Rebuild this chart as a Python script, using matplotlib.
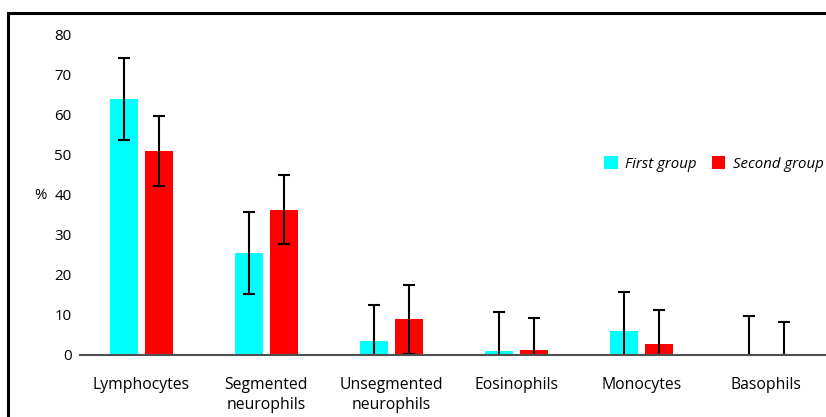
import matplotlib
matplotlib.use("Agg")
import matplotlib.pyplot as plt
import numpy as np
from matplotlib.patches import Rectangle

categories = ["Lymphocytes", "Segmented\nneurophils", "Unsegmented\nneurophils",
              "Eosinophils", "Monocytes", "Basophils"]
first_group = [64.0, 25.5, 3.5, 1.1, 5.9, 0.0]
first_err = [10.3, 10.2, 9.1, 9.7, 9.8, 9.75]
second_group = [51.0, 36.3, 8.9, 1.3, 2.8, 0.0]
second_err = [8.7, 8.6, 8.6, 8.0, 8.45, 8.3]
yticks = [0, 10, 20, 30, 40, 50, 60, 70, 80]

plt.rcParams['font.family'] = ['Open Sans', 'DejaVu Sans']

fig = plt.figure(figsize=(8.26, 4.17), dpi=100)
ax = fig.add_axes([80/826, 1-355/417, 1-80/826, 320/417])

x = np.arange(len(categories))
w = 0.224
off = 0.141
ekw = dict(ecolor='black', elinewidth=1.5, capsize=4, capthick=1.5)
ax.bar(x - off, first_group, w, color='#00FFFF', label='First group',
       yerr=first_err, error_kw=ekw, zorder=2)
ax.bar(x + off, second_group, w, color='#FF0000', label='Second group',
       yerr=second_err, error_kw=ekw, zorder=2)

ax.set_ylim(0, 80)
ax.set_xlim(-0.49, 5.478)
ax.set_yticks(yticks)
ax.set_yticklabels([str(v) for v in yticks], fontsize=10.8)
ax.set_xticks(x)
ax.set_xticklabels(categories, fontsize=11.3, va='top', linespacing=1.3)
ax.tick_params(axis='both', length=0)
ax.tick_params(axis='y', pad=6)
ax.tick_params(axis='x', pad=16)
for s in ['top', 'right', 'left']:
    ax.spines[s].set_visible(False)
ax.spines['bottom'].set_color('#505050')
ax.spines['bottom'].set_linewidth(1.5)
ax.spines['bottom'].set_zorder(3)

fig.text(40/826, 1-196/417, '%', fontsize=10.8, ha='center', va='center')

leg = ax.legend(loc='center', bbox_to_anchor=((714-80)/746, (355-164)/320),
                ncol=2, frameon=False, prop={'style': 'italic', 'size': 10.8},
                handlelength=0.9, handleheight=0.9, handletextpad=0.5,
                columnspacing=1.0)

fig.patches.append(Rectangle((8/826, -0.2), 1.5, 1.2 - 13/417,
                             transform=fig.transFigure, fill=False,
                             edgecolor='black', linewidth=2.2))

fig.savefig('out.png', dpi=100)
